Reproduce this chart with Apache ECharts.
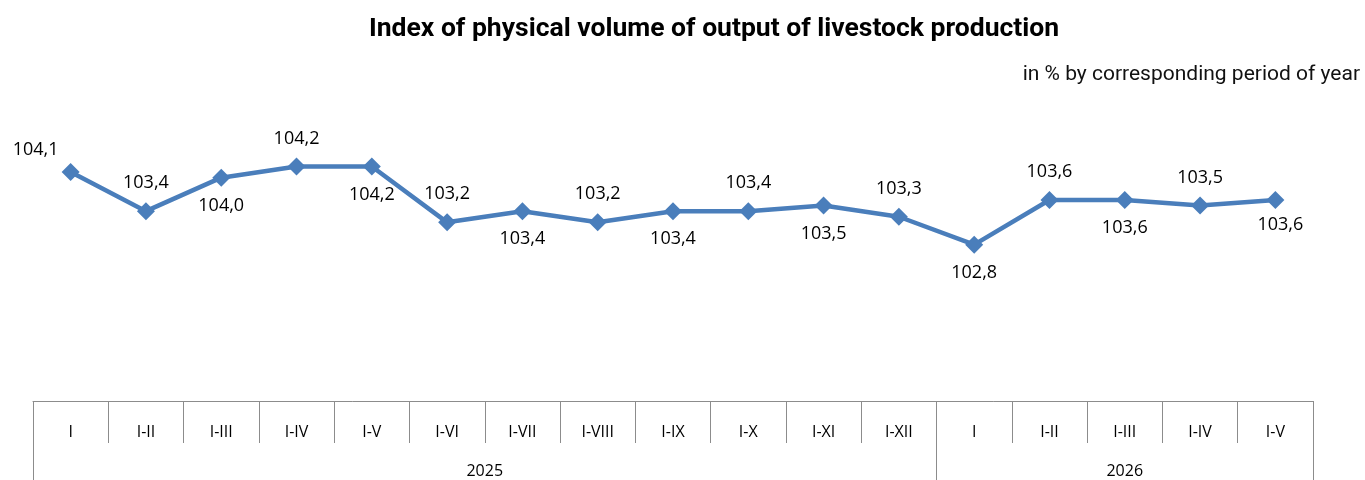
<!DOCTYPE html>
<html>
<head>
<meta charset="utf-8">
<script src="https://cdn.jsdelivr.net/npm/echarts@6/dist/echarts.min.js"></script>
<style>
    html, body { margin: 0; padding: 0; background: #fff; }
    #livestock_chart { width: 1365px; height: 480px; }
</style>
</head>
<body>
<div id="livestock_chart"></div>
<script>

// Data
// ------------------------------

var periods = ['I', 'I-II', 'I-III', 'I-IV', 'I-V', 'I-VI', 'I-VII', 'I-VIII', 'I-IX', 'I-X', 'I-XI', 'I-XII',
               'I', 'I-II', 'I-III', 'I-IV', 'I-V'];
var indexValues = [104.1, 103.4, 104.0, 104.2, 104.2, 103.2, 103.4, 103.2, 103.4, 103.4, 103.5, 103.3,
                   102.8, 103.6, 103.6, 103.5, 103.6];
var years = ['2025', '2026'];
var yearLengths = [12, 5];


// Setup chart
// ------------------------------

var LivestockChart = function() {

    var _lineChart = function() {
        if (typeof echarts == 'undefined') {
            console.warn('Warning - echarts.min.js is not loaded.');
            return;
        }

        var element = document.getElementById('livestock_chart');
        if (!element) return;

        var chart = echarts.init(element);

        // Year group boundaries and label centers (in category units)
        var yearBounds = [0];
        var yearCenters = [];
        yearLengths.forEach(function(n, i) {
            yearCenters.push(yearBounds[i] + n / 2);
            yearBounds.push(yearBounds[i] + n);
        });

        var gridLine = { color: '#8c8c8c', width: 1 };

        chart.setOption({

            textStyle: {
                fontFamily: '"Open Sans", sans-serif'
            },

            title: [{
                text: 'Index of physical volume of output of livestock production',
                left: 364,
                top: 11,
                textStyle: {
                    fontFamily: 'Roboto, sans-serif',
                    fontWeight: 'bold',
                    fontSize: 26.5,
                    color: '#000'
                }
            }, {
                text: 'in % by corresponding period of year',
                right: 0,
                top: 59,
                textStyle: {
                    fontFamily: 'Roboto, sans-serif',
                    fontWeight: 'normal',
                    fontSize: 21,
                    color: '#111'
                }
            }],

            grid: {
                left: 33,
                right: 52,
                top: 66,
                bottom: 79
            },

            xAxis: [{
                type: 'category',
                data: periods,
                boundaryGap: true,
                axisLine: { show: true, lineStyle: gridLine },
                axisTick: { show: true, interval: 0, length: 42, lineStyle: gridLine },
                axisLabel: { interval: 0, margin: 23, fontSize: 16, color: '#000' }
            }, {
                type: 'value',
                min: 0,
                max: periods.length,
                position: 'bottom',
                offset: 42,
                axisLine: { show: false },
                splitLine: { show: false },
                axisTick: { show: true, customValues: yearBounds, length: 40, lineStyle: gridLine },
                axisLabel: {
                    customValues: yearCenters,
                    margin: 20,
                    fontSize: 16,
                    color: '#000',
                    formatter: function(v) {
                        var i = yearCenters.indexOf(v);
                        return i >= 0 ? years[i] : '';
                    }
                }
            }],

            yAxis: {
                type: 'value',
                min: 100,
                max: 106,
                show: false,
                splitLine: { show: false }
            },

            series: [{
                name: 'Index',
                type: 'line',
                xAxisIndex: 0,
                data: indexValues.map(function(v, i) {
                    var above = i === 0 || i % 2 === 1;
                    var label = { position: above ? 'top' : 'bottom' };
                    if (i === 0) label.offset = [-35, 6];
                    if (i === indexValues.length - 1) label.offset = [5, -3];
                    return { value: v, label: label };
                }),
                symbol: 'diamond',
                symbolSize: 18,
                lineStyle: { color: '#4a7ebb', width: 4.5 },
                itemStyle: { color: '#4a7ebb' },
                label: {
                    show: true,
                    distance: 10,
                    fontSize: 18,
                    color: '#000',
                    formatter: function(p) {
                        return p.value.toFixed(1).replace('.', ',');
                    }
                },
                animation: false
            }]
        });
    };

    return {
        init: function() {
            _lineChart();
        }
    }
}();

document.addEventListener('DOMContentLoaded', function() {
    LivestockChart.init();
});
</script>
</body>
</html>
